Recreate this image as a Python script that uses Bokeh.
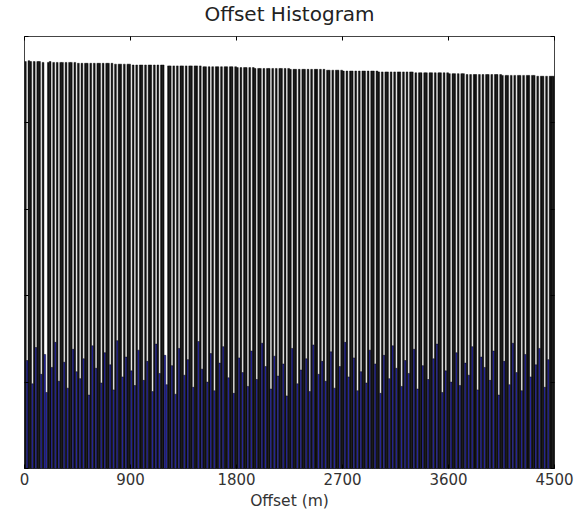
from bokeh.plotting import figure
from bokeh.models import (LinearAxis, FixedTicker, ColumnDataSource, Range1d,
                          CustomLabelingPolicy)
from bokeh.embed import file_html
from bokeh.resources import INLINE

# Offset histogram: bin width in metres and count per bin (0 - 4500 m)
bin_width = 15
counts = [
    471, 125, 472, 471, 98, 471, 140, 471, 471, 109,
    470, 132, 88, 470, 471, 117, 470, 146, 470, 101,
    470, 470, 123, 470, 93, 470, 470, 138, 470, 112,
    469, 104, 469, 127, 469, 469, 85, 469, 142, 469,
    116, 469, 469, 99, 469, 134, 469, 469, 120, 469,
    91, 468, 148, 468, 468, 106, 468, 129, 468, 468,
    113, 467, 96, 467, 137, 467, 467, 102, 467, 124,
    467, 467, 89, 467, 144, 467, 110, 467, 467, 131,
    97, 466, 466, 119, 466, 86, 466, 139, 466, 466,
    108, 466, 126, 466, 466, 94, 466, 466, 147, 466,
    115, 465, 465, 100, 465, 133, 465, 90, 465, 465,
    122, 465, 141, 465, 465, 105, 465, 465, 87, 465,
    464, 128, 464, 111, 464, 464, 95, 464, 136, 464,
    463, 103, 463, 463, 145, 463, 118, 463, 463, 92,
    463, 130, 463, 107, 463, 463, 121, 463, 84, 463,
    462, 139, 462, 462, 98, 462, 114, 462, 462, 127,
    462, 89, 462, 143, 462, 462, 109, 462, 124, 462,
    101, 461, 461, 135, 461, 93, 461, 461, 118, 461,
    460, 146, 460, 106, 460, 460, 128, 460, 90, 460,
    112, 460, 460, 99, 460, 137, 460, 460, 121, 460,
    459, 87, 459, 131, 459, 459, 104, 459, 142, 459,
    116, 459, 459, 95, 459, 125, 459, 110, 459, 459,
    138, 458, 92, 458, 458, 119, 458, 458, 103, 458,
    458, 127, 458, 144, 458, 458, 88, 458, 113, 458,
    457, 100, 457, 457, 134, 457, 96, 457, 457, 122,
    456, 108, 456, 141, 456, 456, 91, 456, 129, 456,
    117, 456, 456, 102, 456, 136, 456, 456, 85, 456,
    455, 124, 455, 455, 97, 455, 145, 455, 111, 455,
    455, 90, 455, 132, 455, 455, 106, 455, 455, 120,
    454, 139, 454, 454, 94, 454, 126, 454, 454, 454,
]
x_ticks = [0, 900, 1800, 2700, 3600, 4500]
y_ticks = [0, 100, 200, 300, 400, 500]

left = [i * bin_width for i in range(len(counts))]
right = [x + bin_width for x in left]
fills = ["#141414" if c > 300 else "#2c2cb0" for c in counts]
source = ColumnDataSource(dict(left=left, right=right, top=counts,
                               bottom=[0] * len(counts), fill=fills))

p = figure(width=576, height=514, x_range=Range1d(0, 4500), y_range=Range1d(0, 500),
           output_backend="svg", toolbar_location=None, title="Offset Histogram",
           min_border_left=24, min_border_right=22, min_border_top=35,
           min_border_bottom=46)
p.background_fill_color = "white"
p.border_fill_color = "white"
p.outline_line_color = "#444444"
p.outline_line_width = 1
p.xgrid.visible = False
p.ygrid.visible = False

p.title.align = "center"
p.title.text_font = "DejaVu Sans"
p.title.text_font_size = "20px"
p.title.text_font_style = "normal"
p.title.text_color = "#222222"
p.title.standoff = -1

p.quad(left="left", right="right", bottom="bottom", top="top", source=source,
       fill_color="fill", line_color="black", line_width=0.45)

# bottom axis with labels, ticks pointing inward
xa = p.xaxis[0]
xa.ticker = FixedTicker(ticks=x_ticks)
xa.major_tick_in = 4
xa.major_tick_out = 0
xa.minor_tick_line_color = None
xa.axis_line_color = None
xa.major_label_text_font = "DejaVu Sans"
xa.major_label_text_font_size = "15px"
xa.major_label_text_color = "#333333"
xa.major_label_standoff = 4
xa.axis_label = "Offset (m)"
xa.axis_label_text_font = "DejaVu Sans"
xa.axis_label_text_font_size = "15.5px"
xa.axis_label_text_font_style = "normal"
xa.axis_label_text_color = "#333333"
xa.axis_label_standoff = 4

# the other three sides carry inward tick marks with no labels
no_labels = CustomLabelingPolicy(code="""
    try { return new indices.constructor(indices.size) } catch (e) { return indices }
""")

ya = p.yaxis[0]
ya.ticker = FixedTicker(ticks=y_ticks)
ya.major_tick_in = 4
ya.major_tick_out = 0
ya.minor_tick_line_color = None
ya.axis_line_color = None
ya.major_label_policy = no_labels
ya.major_label_standoff = 0
ya.axis_label_standoff = 0

top_axis = LinearAxis(ticker=FixedTicker(ticks=x_ticks), major_tick_in=4, major_tick_out=0,
                      minor_tick_line_color=None, axis_line_color=None,
                      major_label_policy=no_labels, major_label_standoff=0,
                      axis_label_standoff=0)
right_axis = LinearAxis(ticker=FixedTicker(ticks=y_ticks), major_tick_in=4, major_tick_out=0,
                        minor_tick_line_color=None, axis_line_color=None,
                        major_label_policy=no_labels, major_label_standoff=0,
                        axis_label_standoff=0)
p.add_layout(top_axis, "above")
p.add_layout(right_axis, "right")

open("out.html", "w").write(file_html(p, INLINE))
